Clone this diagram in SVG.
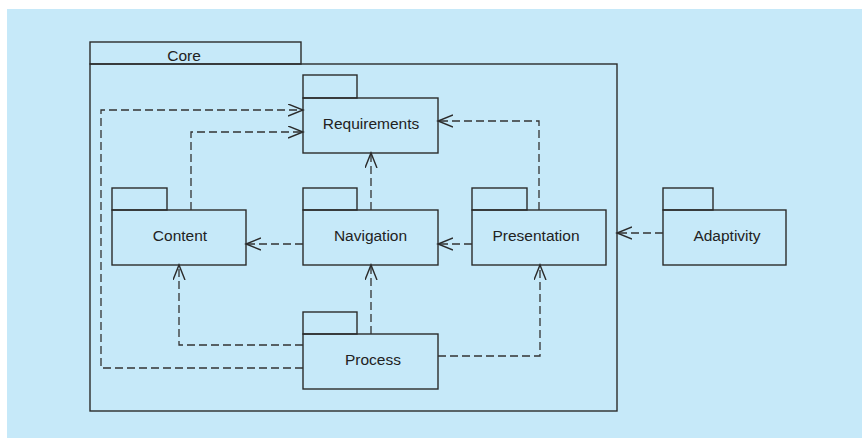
<svg xmlns="http://www.w3.org/2000/svg" width="862" height="438" viewBox="0 0 862 438">
<defs>
<style>
.box{fill:none;stroke:#2b2b2b;stroke-width:1.4}
.dep{fill:none;stroke:#333333;stroke-width:1.3;stroke-dasharray:8 4}
.lbl{font-family:"Liberation Sans",Arial,sans-serif;font-size:15.5px;fill:#222;text-anchor:middle}
</style>
<marker id="open" markerWidth="18" markerHeight="14" refX="15" refY="6.5" orient="auto" markerUnits="userSpaceOnUse">
<path d="M0,0.5 L15,6.5 L0,12.5" fill="none" stroke="#2b2b2b" stroke-width="1.4"/>
</marker>
</defs>
<rect x="0" y="0" width="862" height="438" fill="#ffffff"/>
<rect x="7" y="9" width="855" height="429" fill="#c6e9f9"/>

<g id="core">
<rect class="box" x="90" y="42" width="211" height="22"/>
<rect class="box" x="90" y="64" width="527" height="347"/>
<text class="lbl" x="184" y="60.5">Core</text>
</g>

<g id="requirements">
<rect class="box" x="303" y="75" width="54" height="23"/>
<rect class="box" x="303" y="98" width="135" height="55"/>
<text class="lbl" x="371" y="128.5">Requirements</text>
</g>

<g id="content">
<rect class="box" x="112" y="188" width="55" height="22"/>
<rect class="box" x="112" y="210" width="134" height="55"/>
<text class="lbl" x="180" y="241">Content</text>
</g>

<g id="navigation">
<rect class="box" x="303" y="188" width="54" height="22"/>
<rect class="box" x="303" y="210" width="135" height="55"/>
<text class="lbl" x="370.5" y="241">Navigation</text>
</g>

<g id="presentation">
<rect class="box" x="472" y="188" width="55" height="22"/>
<rect class="box" x="472" y="210" width="134" height="55"/>
<text class="lbl" x="536" y="241">Presentation</text>
</g>

<g id="adaptivity">
<rect class="box" x="663" y="188" width="50" height="22"/>
<rect class="box" x="663" y="210" width="123" height="55"/>
<text class="lbl" x="727" y="241">Adaptivity</text>
</g>

<g id="process">
<rect class="box" x="303" y="312" width="54" height="22"/>
<rect class="box" x="303" y="334" width="135" height="55"/>
<text class="lbl" x="373" y="364.5">Process</text>
</g>

<g id="connectors">
<path class="dep" d="M303,368 H101 V110 H303" marker-end="url(#open)"/>
<path class="dep" d="M191,210 V132 H303" marker-end="url(#open)"/>
<path class="dep" d="M371,210 V153" marker-end="url(#open)"/>
<path class="dep" d="M539,210 V121 H438" marker-end="url(#open)"/>
<path class="dep" d="M303,244 H246" marker-end="url(#open)"/>
<path class="dep" d="M472,244 H438" marker-end="url(#open)"/>
<path class="dep" d="M663,233 H617" marker-end="url(#open)"/>
<path class="dep" d="M303,345 H179 V265" marker-end="url(#open)"/>
<path class="dep" d="M371,334 V265" marker-end="url(#open)"/>
<path class="dep" d="M438,356 H540 V265" marker-end="url(#open)"/>
</g>
</svg>
